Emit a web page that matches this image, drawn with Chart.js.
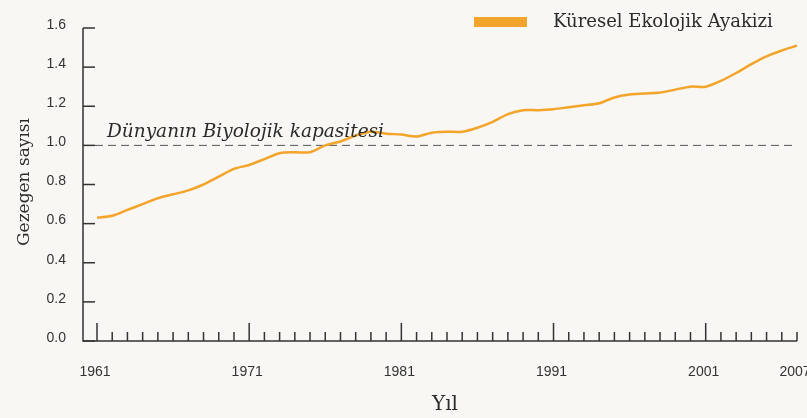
<!DOCTYPE html>
<html>
<head>
<meta charset="utf-8">
<script src="https://cdn.jsdelivr.net/npm/chart.js@4/dist/chart.umd.min.js"></script>
<style>
  html, body { margin: 0; padding: 0; background: #f8f7f3; }
  #wrap { width: 807px; height: 418px; }
</style>
</head>
<body>
<div id="wrap"><canvas id="chart" width="807" height="418"></canvas></div>
<script>
// Years on the x axis
const years = [
  1961, 1962, 1963, 1964, 1965, 1966, 1967, 1968, 1969, 1970,
  1971, 1972, 1973, 1974, 1975, 1976, 1977, 1978, 1979, 1980,
  1981, 1982, 1983, 1984, 1985, 1986, 1987, 1988, 1989, 1990,
  1991, 1992, 1993, 1994, 1995, 1996, 1997, 1998, 1999, 2000,
  2001, 2002, 2003, 2004, 2005, 2006, 2007
];

// Global ecological footprint (number of planets)
const footprint = [
  0.63, 0.64, 0.67, 0.70, 0.73, 0.75, 0.77, 0.80, 0.84, 0.88,
  0.90, 0.93, 0.96, 0.965, 0.965, 1.00, 1.02, 1.05, 1.07, 1.06,
  1.055, 1.045, 1.065, 1.07, 1.07, 1.09, 1.12, 1.16, 1.18, 1.18,
  1.185, 1.195, 1.205, 1.215, 1.245, 1.26, 1.265, 1.27, 1.285, 1.30,
  1.30, 1.33, 1.37, 1.415, 1.455, 1.485, 1.51
];

const capacity = 1.0; // Earth's biocapacity
const xTickLabels = [1961, 1971, 1981, 1991, 2001, 2007];
const yTickLabels = [0, 0.2, 0.4, 0.6, 0.8, 1.0, 1.2, 1.4, 1.6];

const seriesName = "Küresel Ekolojik Ayakizi";
const capacityLabel = "Dünyanın Biyolojik kapasitesi";
const yTitle = "Gezegen sayısı";
const xTitle = "Yıl";

const orange = "#f3a42b";
const ink = "#2b2b2b";

// axes, ticks, dashed line and texts drawn around the scales
const decorations = {
  id: "decorations",
  beforeDatasetsDraw(chart) {
    const { ctx, chartArea: a, scales: { x, y } } = chart;
    const axisX = a.left - 14; // y axis sits a bit left of the first year
    ctx.save();

    // dashed biocapacity line
    const yc = y.getPixelForValue(capacity);
    ctx.strokeStyle = "#555";
    ctx.lineWidth = 1;
    ctx.setLineDash([8, 5]);
    ctx.beginPath();
    ctx.moveTo(axisX + 12, yc);
    ctx.lineTo(a.right, yc);
    ctx.stroke();
    ctx.setLineDash([]);

    // axis lines
    ctx.strokeStyle = "#333";
    ctx.lineWidth = 1.5;
    ctx.beginPath();
    ctx.moveTo(axisX, a.top);
    ctx.lineTo(axisX, a.bottom);
    ctx.lineTo(a.right, a.bottom);
    ctx.stroke();

    // y ticks + labels
    ctx.font = "14px 'Liberation Sans'";
    ctx.fillStyle = "#333";
    ctx.textAlign = "right";
    ctx.textBaseline = "middle";
    yTickLabels.forEach(v => {
      const py = y.getPixelForValue(v);
      ctx.beginPath();
      ctx.moveTo(axisX, py);
      ctx.lineTo(axisX + 12, py);
      ctx.stroke();
      ctx.fillText(v.toFixed(1), 66, py - 3);
    });

    // x ticks: long every 10 years, short otherwise
    years.forEach(yr => {
      const px = x.getPixelForValue(yr);
      const len = (yr - 1961) % 10 === 0 ? 18 : 9;
      ctx.beginPath();
      ctx.moveTo(px, a.bottom);
      ctx.lineTo(px, a.bottom - len);
      ctx.stroke();
    });
    ctx.textAlign = "center";
    xTickLabels.forEach(yr => {
      ctx.fillText(String(yr), x.getPixelForValue(yr) - 2, 372);
    });

    // axis titles
    ctx.fillStyle = ink;
    ctx.font = "20px 'DejaVu Serif'";
    ctx.fillText(xTitle, 445, 405);
    ctx.save();
    ctx.translate(25, 182);
    ctx.rotate(-Math.PI / 2);
    ctx.font = "17px 'DejaVu Serif'";
    ctx.fillText(yTitle, 0, 0);
    ctx.restore();

    // legend
    ctx.fillStyle = orange;
    ctx.fillRect(474, 17, 53, 10);
    ctx.fillStyle = ink;
    ctx.font = "18px 'DejaVu Serif'";
    ctx.textAlign = "left";
    ctx.fillText(seriesName, 553, 22);

    ctx.restore();
  },
  afterDatasetsDraw(chart) {
    // biocapacity label sits on top of the line
    const { ctx, scales: { y } } = chart;
    ctx.save();
    ctx.font = "italic 18.5px 'DejaVu Serif'";
    ctx.fillStyle = ink;
    ctx.textAlign = "left";
    ctx.textBaseline = "alphabetic";
    ctx.fillText(capacityLabel, 107, y.getPixelForValue(capacity) - 8);
    ctx.restore();
  }
};

new Chart(document.getElementById("chart"), {
  type: "line",
  data: {
    datasets: [{
      label: seriesName,
      data: years.map((yr, i) => ({ x: yr, y: footprint[i] })),
      borderColor: orange,
      borderWidth: 2.5,
      pointRadius: 0,
      tension: 0.3,
      fill: false
    }]
  },
  options: {
    responsive: false,
    animation: false,
    layout: { padding: { left: 97, right: 10, top: 28, bottom: 77 } },
    plugins: { legend: { display: false }, tooltip: { enabled: false } },
    scales: {
      x: { type: "linear", min: 1961, max: 2007, display: false },
      y: { min: 0, max: 1.6, display: false }
    }
  },
  plugins: [decorations]
});
</script>
</body>
</html>
